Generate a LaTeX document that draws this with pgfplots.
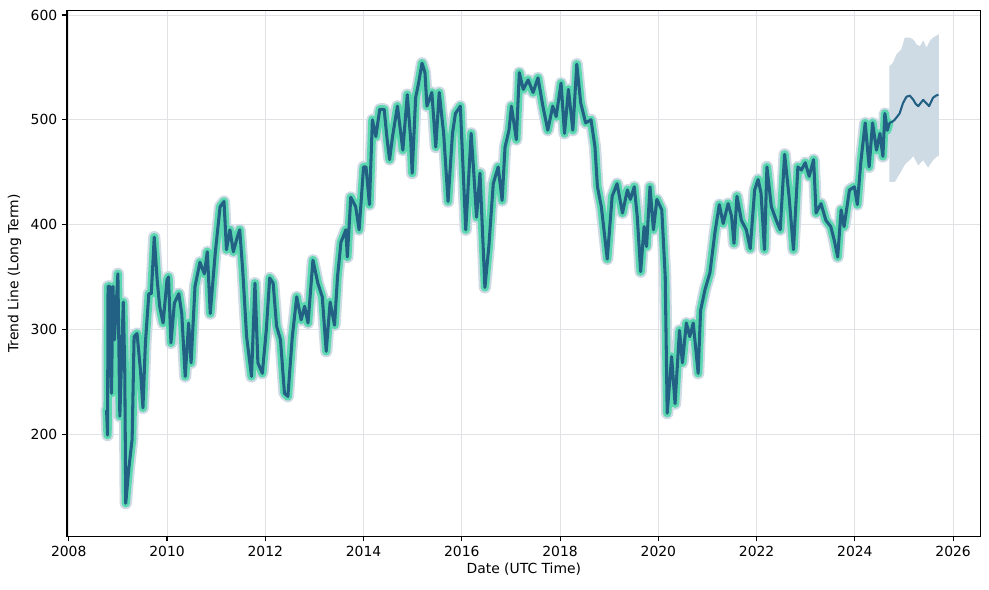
\documentclass[border=0pt]{standalone}
\usepackage{fontspec}
\setmainfont{DejaVu Sans}
\usepackage{pgfplots}
\usepackage{pgfplotstable}
\pgfplotsset{compat=1.18}
\definecolor{trendgreen}{RGB}{92,216,176}
\definecolor{trenddark}{RGB}{34,97,132}
\definecolor{bandcol}{RGB}{206,219,228}
\definecolor{gridcol}{RGB}{224,226,230}
\pgfplotstableread{
x y
2008.77 223
2008.79 199
2008.80 341
2008.84 341
2008.87 239
2008.90 341
2008.93 290
2009.00 353
2009.04 217
2009.11 326
2009.14 261
2009.16 134
2009.22 166
2009.29 195
2009.33 293
2009.39 296
2009.46 261
2009.51 225
2009.56 287
2009.63 334
2009.68 334
2009.74 388
2009.80 347
2009.85 322
2009.92 306
2010.00 347
2010.03 350
2010.08 287
2010.15 325
2010.24 334
2010.30 315
2010.37 255
2010.44 306
2010.49 268
2010.57 341
2010.67 364
2010.76 353
2010.82 374
2010.88 315
2010.98 372
2011.08 417
2011.16 422
2011.21 376
2011.28 395
2011.35 374
2011.43 388
2011.48 395
2011.54 357
2011.62 293
2011.72 255
2011.79 344
2011.85 268
2011.94 258
2012.02 299
2012.09 349
2012.16 344
2012.23 303
2012.31 290
2012.39 239
2012.46 236
2012.55 293
2012.64 331
2012.73 309
2012.80 322
2012.87 306
2012.97 366
2013.07 344
2013.16 331
2013.24 279
2013.32 326
2013.41 304
2013.47 350
2013.54 383
2013.64 395
2013.67 369
2013.74 426
2013.84 417
2013.91 395
2013.96 428
2014.00 455
2014.05 455
2014.12 419
2014.18 500
2014.25 484
2014.33 510
2014.42 510
2014.48 481
2014.53 462
2014.59 484
2014.69 513
2014.75 490
2014.80 471
2014.89 524
2014.96 481
2014.99 449
2015.06 521
2015.12 535
2015.19 554
2015.25 545
2015.29 513
2015.39 526
2015.47 474
2015.54 526
2015.63 487
2015.72 422
2015.81 487
2015.87 506
2015.97 513
2016.08 395
2016.19 487
2016.24 452
2016.30 407
2016.37 449
2016.47 340
2016.55 379
2016.64 439
2016.74 455
2016.82 423
2016.88 474
2016.96 490
2017.01 513
2017.11 481
2017.17 545
2017.25 529
2017.35 538
2017.45 526
2017.55 540
2017.65 513
2017.75 490
2017.85 513
2017.92 503
2018.02 535
2018.09 487
2018.17 529
2018.26 490
2018.34 553
2018.42 516
2018.52 497
2018.63 500
2018.71 474
2018.76 436
2018.84 417
2018.96 367
2019.06 427
2019.16 439
2019.27 411
2019.37 433
2019.43 424
2019.51 436
2019.57 408
2019.64 355
2019.71 398
2019.76 379
2019.83 436
2019.90 395
2019.97 424
2020.07 414
2020.14 350
2020.18 220
2020.27 274
2020.34 229
2020.43 299
2020.49 268
2020.57 306
2020.64 293
2020.71 306
2020.81 258
2020.86 318
2020.95 338
2021.05 354
2021.15 392
2021.24 419
2021.32 401
2021.42 420
2021.49 408
2021.54 382
2021.60 427
2021.69 404
2021.79 395
2021.87 377
2021.96 433
2022.03 443
2022.09 430
2022.16 376
2022.21 455
2022.30 417
2022.40 404
2022.48 395
2022.57 467
2022.66 427
2022.75 376
2022.84 455
2022.91 452
2022.99 459
2023.07 446
2023.16 462
2023.21 411
2023.31 420
2023.41 404
2023.51 398
2023.58 385
2023.65 369
2023.72 414
2023.78 398
2023.89 433
2023.99 436
2024.05 419
2024.12 459
2024.21 497
2024.29 455
2024.36 497
2024.44 471
2024.51 487
2024.57 465
2024.61 506
2024.66 490
2024.70 497
}\trendtable
\begin{document}
\begin{tikzpicture}
\begin{axis}[
  scale only axis,
  width=657pt, height=378pt,
  xmin=2007.965, xmax=2026.56,
  ymin=102.4, ymax=604.1,
  xtick={2008,2010,...,2026},
  ytick={200,300,400,500,600},
  /pgf/number format/1000 sep={},
  /pgf/number format/assume math mode=true,
  tick label style={font=\fontsize{10}{12}\selectfont},
  label style={font=\fontsize{10}{12}\selectfont},
  xlabel={Date (UTC Time)},
  ylabel={Trend Line (Long Term)},
  xlabel style={yshift=2pt},
  grid=major,
  major grid style={draw=gridcol, line width=0.7pt},
  axis line style={line width=0.8pt},
  tick style={black, line width=0.8pt},
  tick align=outside,
  major tick length=3.5pt,
  xtick pos=bottom, ytick pos=left,
  clip=true,
]
% forecast uncertainty band
\addplot[fill=bandcol, draw=bandcol, line width=0.5pt] coordinates {
(2024.71,551) (2024.78,554) (2024.85,562) (2024.95,567) (2025.02,578) (2025.12,578)
(2025.19,576) (2025.26,571) (2025.33,570) (2025.39,575) (2025.46,568) (2025.53,575)
(2025.59,578) (2025.70,581)
(2025.70,466) (2025.66,465) (2025.59,462) (2025.49,455) (2025.39,462) (2025.29,457)
(2025.19,466) (2025.12,462) (2025.02,458) (2024.91,449) (2024.81,441) (2024.71,441)
} -- cycle;
% historical uncertainty (halo)
\addplot[bandcol, line width=8.8pt, line join=round, line cap=round] table {\trendtable};
% trend (green thick + dark)
\addplot[trendgreen, line width=6pt, line join=round, line cap=round] table {\trendtable};
\addplot[trenddark, line width=2.2pt, line join=round] table {\trendtable};
% forecast line
\addplot[trenddark, line width=1.5pt, line join=round] coordinates {
(2024.70,497) (2024.76,498) (2024.81,500) (2024.91,506) (2024.98,516) (2025.05,522)
(2025.12,523) (2025.19,519) (2025.24,515) (2025.29,513) (2025.34,516) (2025.39,519)
(2025.45,516) (2025.51,513) (2025.55,517) (2025.59,521) (2025.65,523) (2025.70,524)
};
\end{axis}
\path ([xshift=-48.2pt,yshift=-38.2pt]current axis.south west) rectangle ([xshift=6pt,yshift=7.7pt]current axis.north east);
\end{tikzpicture}
\end{document}
